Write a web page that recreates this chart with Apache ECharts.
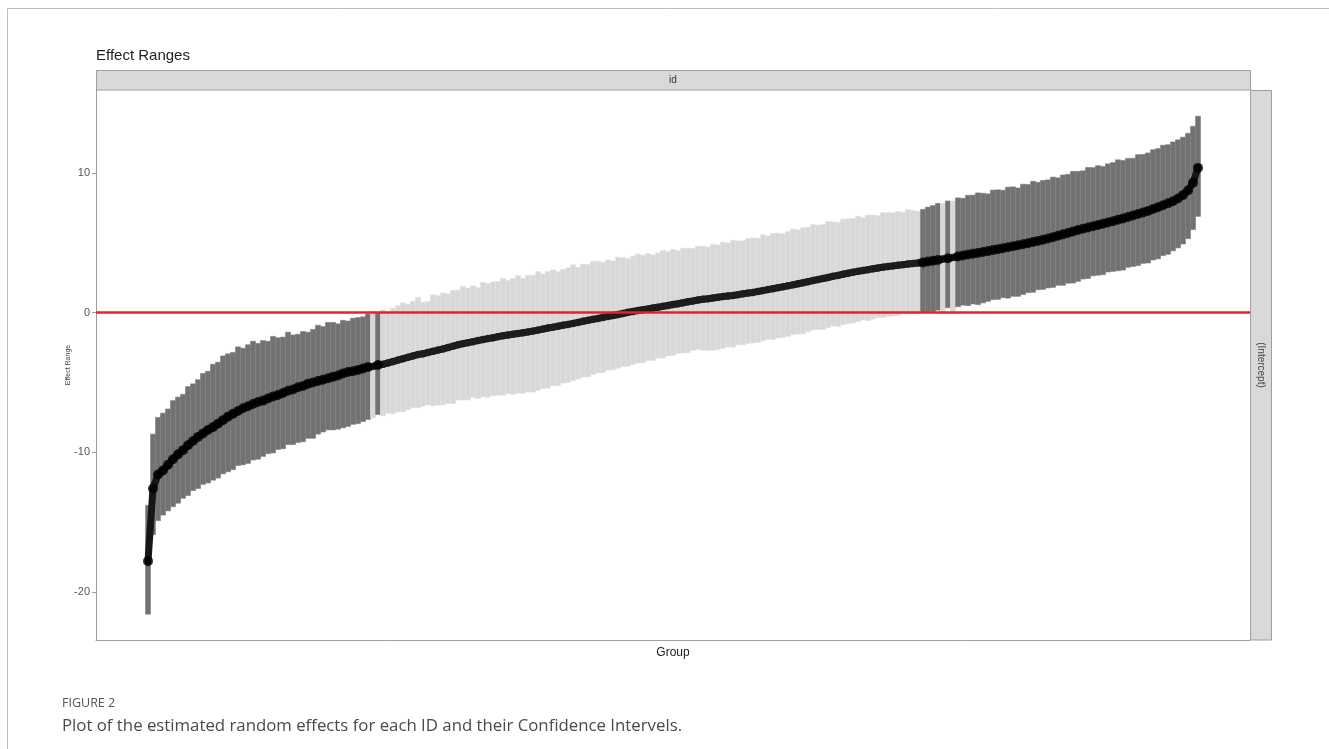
<!DOCTYPE html>
<html>
<head>
<meta charset="utf-8">
<script src="https://cdn.jsdelivr.net/npm/echarts@6/dist/echarts.min.js"></script>
<style>
html,body{margin:0;padding:0;background:#fff;}
#chart{width:1329px;height:749px;}
</style>
</head>
<body>
<div id="chart"></div>
<script>
// ---- data ----
const titleText = 'Effect Ranges';
const facetTop = 'id';
const facetRight = '(Intercept)';
const xTitle = 'Group';
const yTitle = 'Effect Range';
const yTicks = [-20, -10, 0, 10];
const captionHead = 'FIGURE 2';
const captionText = 'Plot of the estimated random effects for each ID and their Confidence Intervels.';

// estimated random effect per group (sorted)
const estimate = [
-17.8,-12.6,-11.6,-11.3,-10.9,-10.5,-10.15,-9.85,-9.5,-9.2,
-8.9,-8.65,-8.4,-8.2,-7.95,-7.7,-7.45,-7.25,-7.05,-6.85,
-6.7,-6.55,-6.4,-6.3,-6.15,-6.0,-5.9,-5.75,-5.6,-5.5,
-5.35,-5.25,-5.1,-5.0,-4.9,-4.8,-4.7,-4.6,-4.5,-4.35,
-4.25,-4.2,-4.1,-4.0,-3.9,-3.85,-3.75,-3.7,-3.6,-3.5,
-3.4,-3.3,-3.2,-3.1,-3.0,-2.95,-2.85,-2.77,-2.68,-2.6,
-2.5,-2.4,-2.3,-2.22,-2.15,-2.08,-2.0,-1.93,-1.86,-1.8,
-1.72,-1.66,-1.6,-1.55,-1.5,-1.44,-1.38,-1.32,-1.25,-1.18,
-1.1,-1.04,-0.97,-0.9,-0.84,-0.77,-0.7,-0.62,-0.55,-0.48,
-0.41,-0.34,-0.27,-0.2,-0.13,-0.06,0.02,0.09,0.15,0.21,
0.27,0.33,0.39,0.45,0.51,0.58,0.64,0.71,0.78,0.84,
0.91,0.96,1.0,1.05,1.1,1.15,1.19,1.23,1.29,1.35,
1.4,1.45,1.52,1.58,1.65,1.72,1.79,1.85,1.92,1.99,
2.07,2.14,2.22,2.3,2.37,2.45,2.52,2.6,2.67,2.75,
2.82,2.9,2.96,3.02,3.08,3.14,3.2,3.26,3.31,3.35,
3.4,3.44,3.48,3.52,3.56,3.6,3.66,3.72,3.78,3.84,
3.9,3.95,4.02,4.09,4.16,4.22,4.28,4.35,4.41,4.48,
4.55,4.62,4.69,4.76,4.83,4.9,4.98,5.06,5.14,5.22,
5.31,5.41,5.51,5.61,5.71,5.82,5.92,6.01,6.1,6.19,
6.28,6.37,6.46,6.55,6.65,6.75,6.85,6.96,7.07,7.18,
7.29,7.42,7.55,7.69,7.83,7.98,8.18,8.42,8.75,9.3,10.37
];
// distance from estimate to upper confidence limit
const ciAbove = [
4.0,3.9,4.1,4.1,4.0,4.2,4.1,4.0,4.2,4.1,
4.1,4.3,4.2,4.5,4.4,4.6,4.5,4.4,4.6,4.3,
4.4,4.5,4.2,4.3,4.1,4.3,4.1,4.0,4.2,3.9,
3.8,3.9,3.7,3.8,4.0,3.8,4.0,3.9,3.7,3.8,
3.65,3.8,3.75,3.7,3.8,3.95,3.7,3.9,3.65,3.8,
3.9,4.0,3.8,3.9,4.1,3.7,3.65,4.05,3.9,4.0,
3.85,4.0,3.9,4.1,3.9,4.0,3.8,4.1,3.95,4.0,
3.95,4.1,3.9,4.0,4.15,3.9,4.05,4.0,4.2,3.95,
4.05,4.1,3.9,4.0,4.05,4.2,3.95,4.1,4.0,4.15,
4.1,3.95,4.05,3.9,4.1,4.0,3.85,3.95,4.05,3.9,
3.95,3.8,3.9,4.0,3.85,3.95,3.8,3.9,3.85,3.75,
3.85,3.8,3.7,3.85,3.75,3.9,3.8,3.95,3.85,3.8,
3.9,3.9,3.8,4.0,3.85,3.95,3.9,3.8,3.9,4.0,
3.85,3.95,3.9,4.0,3.9,3.85,4.0,3.9,3.8,3.95,
3.9,3.85,3.95,3.8,3.9,3.85,3.75,3.9,3.85,3.8,
3.85,3.75,3.9,3.8,3.7,3.8,3.9,3.95,4.05,4.0,
4.1,4.05,4.2,4.1,4.25,4.2,4.3,4.2,4.1,4.3,
4.25,4.15,4.3,4.25,4.1,4.3,4.2,4.35,4.2,4.25,
4.2,4.3,4.15,4.25,4.2,4.3,4.2,4.15,4.3,4.2,
4.25,4.1,4.2,4.2,4.3,4.15,4.2,4.1,4.25,4.15,
4.15,4.25,4.2,4.3,4.2,4.25,4.2,4.15,4.1,4.05,3.7
];
// distance from estimate to lower confidence limit
const ciBelow = [
3.8,3.3,3.3,3.2,3.3,3.4,3.5,3.45,3.6,3.55,
3.7,3.65,3.8,3.8,3.9,3.85,3.95,4.0,3.9,4.05,
4.1,4.0,4.1,4.0,3.95,4.05,3.9,4.0,3.85,3.95,
3.95,4.0,3.9,4.0,3.8,3.75,3.7,3.8,3.85,3.9,
3.9,3.8,3.85,3.8,3.75,3.7,3.55,3.7,3.6,3.75,
3.7,3.8,3.75,3.7,3.8,3.75,3.75,3.9,3.95,4.0,
4.0,4.1,3.95,4.05,4.1,4.0,4.15,4.1,4.2,4.15,
4.2,4.25,4.2,4.3,4.25,4.35,4.3,4.38,4.3,4.25,
4.3,4.2,4.25,4.15,4.16,4.1,4.05,4.0,4.05,3.95,
3.9,3.95,3.85,3.9,3.85,3.8,3.85,3.8,3.75,3.8,
3.7,3.75,3.65,3.7,3.6,3.65,3.55,3.6,3.65,3.55,
3.56,3.65,3.7,3.75,3.75,3.7,3.65,3.7,3.6,3.65,
3.6,3.62,3.65,3.6,3.55,3.65,3.6,3.62,3.62,3.55,
3.6,3.65,3.6,3.55,3.59,3.65,3.6,3.55,3.65,3.6,
3.6,3.64,3.6,3.55,3.65,3.6,3.55,3.6,3.58,3.6,
3.6,3.5,3.5,3.6,3.58,3.55,3.6,3.65,3.6,3.9,
3.55,4.0,3.6,3.55,3.65,3.6,3.71,3.65,3.6,3.55,
3.6,3.55,3.65,3.59,3.66,3.6,3.55,3.6,3.5,3.55,
3.54,3.6,3.55,3.65,3.6,3.7,3.68,3.6,3.65,3.55,
3.6,3.65,3.55,3.59,3.65,3.7,3.6,3.65,3.7,3.65,
3.73,3.65,3.7,3.6,3.65,3.55,3.54,3.5,3.45,3.35,3.47
];

// ---- build series data ----
const bars = [], sigPts = [], nsPts = [], linePts = [];
estimate.forEach((e, i) => {
  const lo = +(e - ciBelow[i]).toFixed(3);
  const hi = +(e + ciAbove[i]).toFixed(3);
  const sig = (hi < 0 || lo > 0) ? 1 : 0;
  bars.push([i, lo, hi, sig]);
  linePts.push([i, e]);
  (sig ? sigPts : nsPts).push([i, e]);
});

const G = {left: 96, top: 90, width: 1154, height: 550};
const xMin = -10.4, xMax = estimate.length - 1 + 10.4;

const chart = echarts.init(document.getElementById('chart'), null, {renderer: 'canvas'});
const F = 'Liberation Sans, Arial, Helvetica, sans-serif';
chart.setOption({
  animation: false,
  backgroundColor: '#fff',
  grid: {left: G.left, top: G.top, width: G.width, height: G.height, containLabel: false},
  xAxis: {
    type: 'value', min: xMin, max: xMax,
    axisLine: {show: true, onZero: false, lineStyle: {color: '#9e9e9e', width: 1}},
    axisTick: {show: false}, axisLabel: {show: false}, splitLine: {show: false}
  },
  yAxis: {
    type: 'value', min: -23.45, max: 15.95,
    axisLine: {show: true, onZero: false, lineStyle: {color: '#9e9e9e', width: 1}},
    axisTick: {show: true, length: 4, lineStyle: {color: '#9e9e9e'}, customValues: yTicks},
    axisLabel: {show: true, customValues: yTicks, color: '#555', fontSize: 11, margin: 6, fontFamily: F},
    splitLine: {show: false}
  },
  series: [
    {
      type: 'custom', z: 1, clip: true,
      renderItem: function (params, api) {
        const x = api.value(0), lo = api.value(1), hi = api.value(2), sig = api.value(3);
        const p1 = api.coord([x, hi]), p2 = api.coord([x, lo]);
        const w = api.size([1, 0])[0];
        return {type: 'rect', shape: {x: p1[0] - w / 2, y: p1[1], width: w, height: p2[1] - p1[1]},
                style: {fill: sig ? '#727272' : '#d8d8d8', stroke: sig ? '#7e7e7e' : '#e0e0e0', lineWidth: 0.6}};
      },
      encode: {x: 0, y: [1, 2]},
      data: bars,
      markLine: {
        silent: true, symbol: ['none', 'none'], label: {show: false},
        lineStyle: {color: '#e0242a', width: 2.5, type: 'solid'},
        data: [{yAxis: 0}]
      }
    },
    {
      type: 'line', z: 3, data: linePts, showSymbol: false, symbol: 'none',
      lineStyle: {color: '#161616', width: 7, cap: 'round', join: 'round'}
    },
    {
      type: 'scatter', z: 4, data: nsPts, symbolSize: 7.5,
      itemStyle: {color: '#1e1e1e'}
    },
    {
      type: 'scatter', z: 5, data: sigPts, symbolSize: 10,
      itemStyle: {color: '#000'}
    }
  ],
  graphic: [
    {type: 'rect', z: 0, shape: {x: 7.5, y: 8.5, width: 1400, height: 800}, style: {fill: 'none', stroke: '#bdbdbd', lineWidth: 1}},
    {type: 'text', left: 96, top: 48, style: {text: titleText, fontSize: 15, fill: '#222', fontFamily: F}},
    {type: 'rect', shape: {x: 96.5, y: 70.5, width: 1154, height: 19.5}, style: {fill: '#d9d9d9', stroke: '#9e9e9e', lineWidth: 1}},
    {type: 'text', x: 673, y: 80, style: {text: facetTop, fontSize: 10, fill: '#333', fontFamily: F, align: 'center', verticalAlign: 'middle'}},
    {type: 'rect', shape: {x: 1250.5, y: 90.5, width: 21, height: 549.5}, style: {fill: '#d9d9d9', stroke: '#9e9e9e', lineWidth: 1}},
    {type: 'text', x: 1261, y: 365, rotation: -Math.PI / 2, style: {text: facetRight, fontSize: 10, fill: '#444', fontFamily: F, align: 'center', verticalAlign: 'middle'}},
    {type: 'text', x: 68, y: 365, rotation: Math.PI / 2, style: {text: yTitle, fontSize: 7, fill: '#444', fontFamily: F, align: 'center', verticalAlign: 'middle'}},
    {type: 'text', x: 673, y: 653, style: {text: xTitle, fontSize: 12, fill: '#222', fontFamily: F, align: 'center', verticalAlign: 'middle'}},
    {type: 'text', left: 62, top: 697, style: {text: captionHead, fontSize: 12.5, fill: '#555', fontFamily: 'Open Sans, Lato, sans-serif'}},
    {type: 'text', left: 62, top: 718, style: {text: captionText, fontSize: 16.8, fill: '#4a4a4a', fontFamily: 'Open Sans, Lato, sans-serif'}}
  ]
});
</script>
</body>
</html>
